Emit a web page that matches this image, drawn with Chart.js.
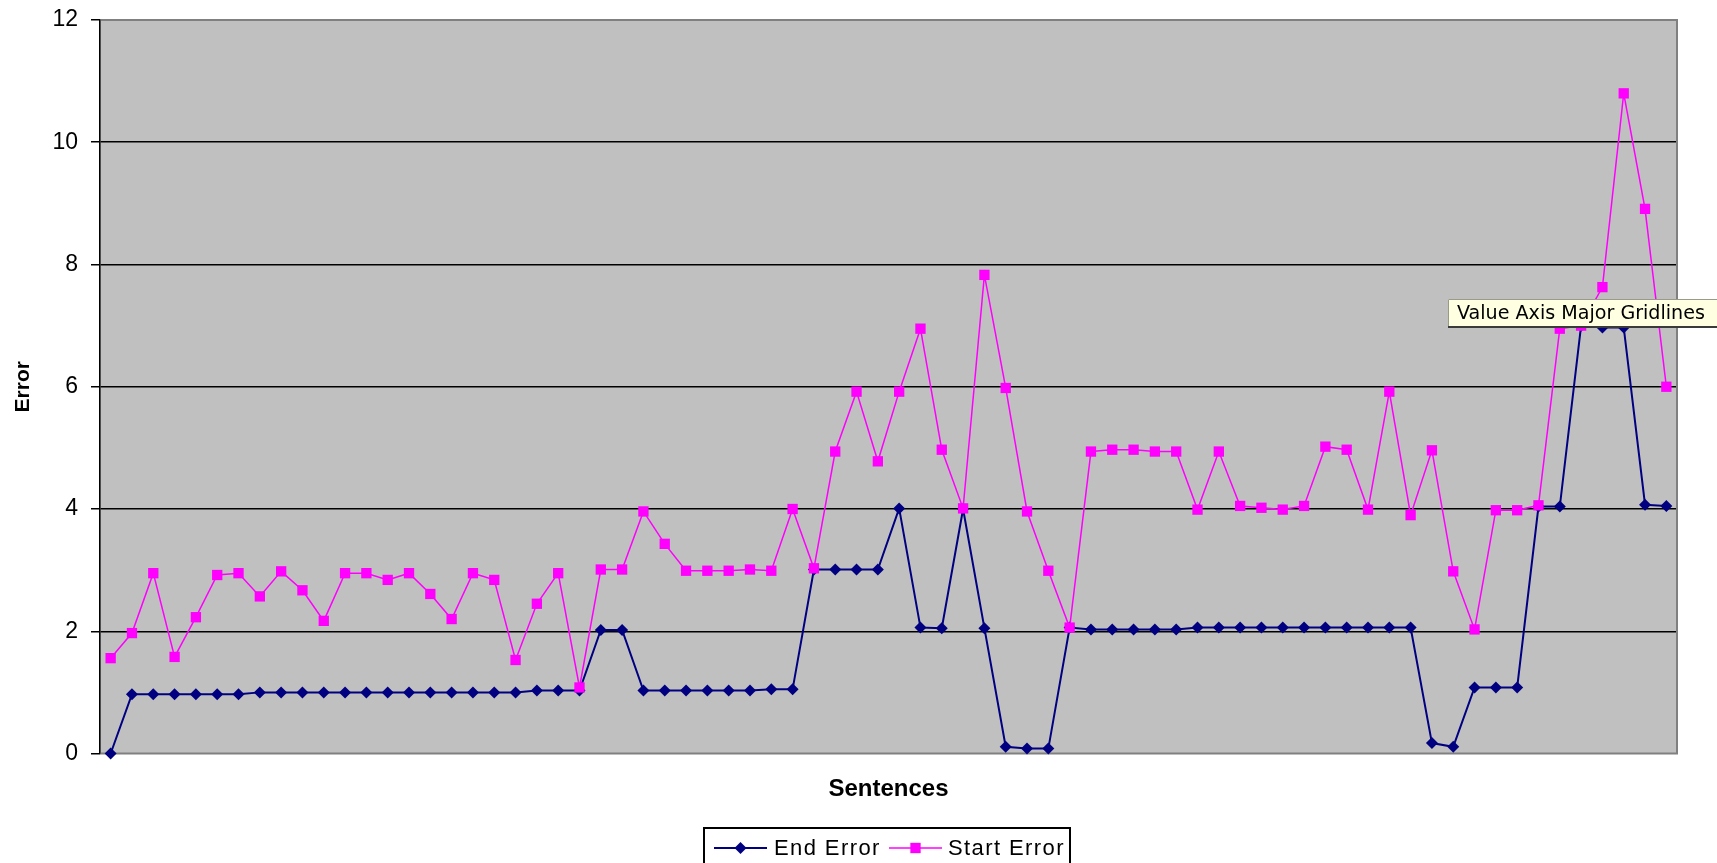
<!DOCTYPE html>
<html>
<head>
<meta charset="utf-8">
<script src="https://cdn.jsdelivr.net/npm/chart.js@4/dist/chart.umd.min.js"></script>
<style>
html, body { margin: 0; padding: 0; background: #fff; overflow: hidden; }
#wrap { width: 1717px; height: 863px; position: relative; }
</style>
</head>
<body>
<div id="wrap"><canvas id="c" width="1717" height="863"></canvas></div>
<script>
// Sentence numbers along the horizontal axis
const sentences = [
  1, 2, 3, 4, 5, 6, 7, 8, 9, 10, 11, 12, 13, 14, 15, 16, 17, 18, 19, 20,
  21, 22, 23, 24, 25, 26, 27, 28, 29, 30, 31, 32, 33, 34, 35, 36, 37, 38, 39, 40,
  41, 42, 43, 44, 45, 46, 47, 48, 49, 50, 51, 52, 53, 54, 55, 56, 57, 58, 59, 60,
  61, 62, 63, 64, 65, 66, 67, 68, 69, 70, 71, 72, 73, 74
];

// Error at the end of each sentence
const endError = [
  0.00, 0.97, 0.97, 0.97, 0.97, 0.97, 0.97, 1.00, 1.00, 1.00,
  1.00, 1.00, 1.00, 1.00, 1.00, 1.00, 1.00, 1.00, 1.00, 1.00,
  1.03, 1.03, 1.03, 2.02, 2.02, 1.03, 1.03, 1.03, 1.03, 1.03,
  1.03, 1.05, 1.05, 3.01, 3.01, 3.01, 3.01, 4.01, 2.06, 2.05,
  4.00, 2.05, 0.11, 0.08, 0.08, 2.06, 2.03, 2.03, 2.03, 2.03,
  2.03, 2.06, 2.06, 2.06, 2.06, 2.06, 2.06, 2.06, 2.06, 2.06,
  2.06, 2.06, 0.17, 0.11, 1.08, 1.08, 1.08, 4.04, 4.04, 7.00,
  6.97, 6.97, 4.07, 4.05
];

// Error at the start of each sentence
const startError = [
  1.56, 1.97, 2.95, 1.58, 2.23, 2.92, 2.95, 2.57, 2.98, 2.67,
  2.17, 2.95, 2.95, 2.84, 2.95, 2.61, 2.20, 2.95, 2.84, 1.53,
  2.45, 2.95, 1.08, 3.01, 3.01, 3.96, 3.43, 2.99, 2.99, 2.99,
  3.01, 2.99, 4.00, 3.03, 4.94, 5.92, 4.78, 5.92, 6.95, 4.97,
  4.01, 7.83, 5.98, 3.96, 2.99, 2.06, 4.94, 4.97, 4.97, 4.94,
  4.94, 3.99, 4.94, 4.05, 4.02, 3.99, 4.05, 5.02, 4.97, 3.99,
  5.92, 3.90, 4.96, 2.98, 2.03, 3.98, 3.98, 4.06, 6.95, 7.00,
  7.63, 10.80, 8.91, 6.00
];

// Value axis labels
const errorTicks = [0, 2, 4, 6, 8, 10, 12];

const seriesNames = ['End Error', 'Start Error'];
const hoverNote = 'Value Axis Major Gridlines';

const NAVY = '#000080';
const MAGENTA = '#FF00FF';

// Grey plotting area with its frame
const plotFrame = {
  id: 'plotFrame',
  beforeDraw(chart) {
    const { ctx, chartArea: a } = chart;
    ctx.save();
    ctx.fillStyle = '#C0C0C0';
    ctx.fillRect(a.left, a.top, a.right - a.left, a.bottom - a.top);
    ctx.restore();
  },
  beforeDatasetsDraw(chart) {
    const { ctx, chartArea: a } = chart;
    ctx.save();
    ctx.strokeStyle = '#808080';
    ctx.lineWidth = 2;
    ctx.beginPath();
    ctx.moveTo(a.left + 1, a.top);
    ctx.lineTo(a.right, a.top);
    ctx.lineTo(a.right, a.bottom);
    ctx.lineTo(a.left + 1, a.bottom);
    ctx.stroke();
    ctx.restore();
  }
};

// Boxed legend below the axis title: line sample with marker, then name
const boxedLegend = {
  id: 'boxedLegend',
  afterDraw(chart) {
    const { ctx } = chart;
    const cy = 848;
    ctx.save();
    ctx.fillStyle = '#FFFFFF';
    ctx.fillRect(704, 828, 366, 60);
    ctx.strokeStyle = '#000';
    ctx.lineWidth = 2;
    ctx.strokeRect(704, 828, 366, 60);

    const items = [
      { ds: chart.data.datasets[0], x0: 714, x1: 767, tx: 774 },
      { ds: chart.data.datasets[1], x0: 889, x1: 942, tx: 948 }
    ];
    items.forEach(it => {
      ctx.strokeStyle = it.ds.borderColor;
      ctx.lineWidth = it.ds.borderWidth;
      ctx.beginPath();
      ctx.moveTo(it.x0, cy);
      ctx.lineTo(it.x1, cy);
      ctx.stroke();
      ctx.fillStyle = it.ds.pointBackgroundColor;
      ctx.strokeStyle = it.ds.pointBackgroundColor;
      Chart.helpers.drawPoint(ctx, {
        pointStyle: it.ds.pointStyle,
        radius: it.ds.pointRadius,
        rotation: 0,
        borderWidth: 0
      }, (it.x0 + it.x1) / 2, cy);
      ctx.fillStyle = '#000';
      ctx.font = '22px "Liberation Sans", Arial, sans-serif';
      if ('letterSpacing' in ctx) ctx.letterSpacing = '1.4px';
      ctx.textBaseline = 'middle';
      ctx.textAlign = 'left';
      ctx.fillText(it.ds.label, it.tx, cy + 1);
      if ('letterSpacing' in ctx) ctx.letterSpacing = '0px';
    });
    ctx.restore();
  }
};

// Small yellow hover note over the right part of the plot
const hoverBox = {
  id: 'hoverBox',
  afterDraw(chart) {
    const { ctx } = chart;
    ctx.save();
    const x = 1448, y = 299, h = 28;
    ctx.fillStyle = '#FFFFE1';
    ctx.fillRect(x, y, 1717 - x, h);
    ctx.strokeStyle = '#9A9A8A';
    ctx.lineWidth = 1;
    ctx.beginPath();
    ctx.moveTo(x + 0.5, y + h);
    ctx.lineTo(x + 0.5, y + 0.5);
    ctx.lineTo(1717, y + 0.5);
    ctx.stroke();
    ctx.strokeStyle = '#3A3A3A';
    ctx.lineWidth = 2;
    ctx.beginPath();
    ctx.moveTo(x, y + h);
    ctx.lineTo(1717, y + h);
    ctx.stroke();
    let size = 16;
    ctx.font = size + 'px "DejaVu Sans", Verdana, sans-serif';
    const w = ctx.measureText(hoverNote).width;
    size = size * 248 / w;
    ctx.font = size.toFixed(2) + 'px "DejaVu Sans", Verdana, sans-serif';
    ctx.fillStyle = '#000';
    ctx.textBaseline = 'alphabetic';
    ctx.textAlign = 'left';
    ctx.fillText(hoverNote, 1457, 319);
    ctx.restore();
  }
};

new Chart(document.getElementById('c'), {
  type: 'line',
  data: {
    labels: sentences,
    datasets: [
      {
        label: seriesNames[0],
        data: endError,
        borderColor: NAVY,
        backgroundColor: NAVY,
        borderWidth: 2,
        pointStyle: 'rectRot',
        pointRadius: 6,
        pointBackgroundColor: NAVY,
        pointBorderWidth: 0,
        tension: 0,
        clip: false,
        order: 1
      },
      {
        label: seriesNames[1],
        data: startError,
        borderColor: MAGENTA,
        backgroundColor: MAGENTA,
        borderWidth: 1.5,
        pointStyle: 'rect',
        pointRadius: 7.3,
        pointBackgroundColor: MAGENTA,
        pointBorderWidth: 0,
        tension: 0,
        clip: false,
        order: 0
      }
    ]
  },
  options: {
    responsive: false,
    animation: false,
    devicePixelRatio: 1,
    layout: { padding: { top: 20, right: 40, bottom: 0, left: 0 } },
    plugins: {
      legend: { display: false },
      tooltip: { enabled: false },
      title: { display: false }
    },
    events: [],
    scales: {
      x: {
        type: 'category',
        offset: true,
        grid: { display: false },
        border: { display: false },
        ticks: { display: false },
        title: {
          display: true,
          text: 'Sentences',
          color: '#000',
          font: { family: '"Liberation Sans", Arial, sans-serif', size: 24, weight: 'bold' },
          padding: { top: 0, bottom: 59 }
        },
        afterFit(scale) {
          scale.height = 109.5;
          scale.paddingLeft = 0;
          scale.paddingRight = 0;
        }
      },
      y: {
        min: 0,
        max: 12,
        afterBuildTicks(scale) { scale.ticks = errorTicks.map(v => ({ value: v })); },
        ticks: {
          color: '#000',
          padding: 13,
          font: { family: '"Liberation Sans", Arial, sans-serif', size: 23 }
        },
        grid: {
          color: ctx => (ctx.tick && (ctx.tick.value === 0 || ctx.tick.value === 12)) ? 'rgba(0,0,0,0)' : '#000',
          lineWidth: 1.5,
          tickColor: '#000',
          tickLength: 9,
          tickWidth: 1.5
        },
        border: { display: true, color: '#000', width: 1.6 },
        title: {
          display: true,
          text: 'Error',
          color: '#000',
          font: { family: '"Liberation Sans", Arial, sans-serif', size: 21, weight: 'bold' },
          padding: { top: 11, bottom: 0 }
        },
        afterFit(scale) {
          scale.width = 100;
          scale.paddingTop = 0;
          scale.paddingBottom = 0;
        }
      }
    }
  },
  plugins: [plotFrame, boxedLegend, hoverBox]
});
</script>
</body>
</html>
